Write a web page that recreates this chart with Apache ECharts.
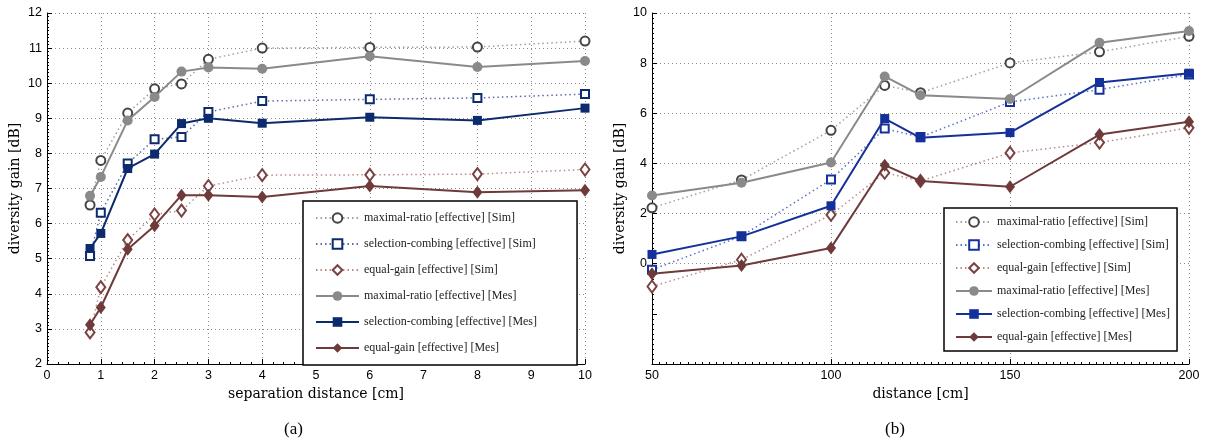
<!DOCTYPE html>
<html>
<head>
<meta charset="utf-8">
<script src="https://cdn.jsdelivr.net/npm/echarts@6/dist/echarts.min.js"></script>
<style>html,body{margin:0;padding:0;background:#fff;}#chart{width:1206px;height:448px;}</style>
</head>
<body>
<div id="chart"></div>
<script>
// ---------- Data: panel (a) ----------
const sepDistance = [0.8, 1, 1.5, 2, 2.5, 3, 4, 6, 8, 10];
const aMaxRatioSim  = [6.53, 7.80, 9.15, 9.84, 9.98, 10.68, 11.00, 11.02, 11.03, 11.20];
const aSelCombSim   = [5.08, 6.31, 7.71, 8.40, 8.47, 9.18, 9.49, 9.54, 9.58, 9.69];
const aEqualGainSim = [2.90, 4.19, 5.53, 6.26, 6.37, 7.07, 7.38, 7.39, 7.41, 7.54];
const aMaxRatioMes  = [6.79, 7.33, 8.94, 9.61, 10.33, 10.45, 10.41, 10.77, 10.46, 10.63];
const aSelCombMes   = [5.29, 5.72, 7.57, 7.98, 8.85, 9.00, 8.86, 9.03, 8.94, 9.29];
const aEqualGainMes = [3.12, 3.61, 5.27, 5.94, 6.81, 6.81, 6.76, 7.07, 6.89, 6.95];

// ---------- Data: panel (b) ----------
const distance = [50, 75, 100, 115, 125, 150, 175, 200];
const bMaxRatioSim  = [2.23, 3.34, 5.32, 7.11, 6.82, 8.01, 8.45, 9.07];
const bSelCombSim   = [-0.24, 1.10, 3.36, 5.39, 5.05, 6.45, 6.94, 7.55];
const bEqualGainSim = [-0.91, 0.16, 1.95, 3.63, 3.30, 4.42, 4.83, 5.42];
const bMaxRatioMes  = [2.72, 3.23, 4.04, 7.47, 6.72, 6.57, 8.81, 9.28];
const bSelCombMes   = [0.37, 1.09, 2.31, 5.79, 5.02, 5.23, 7.23, 7.60];
const bEqualGainMes = [-0.40, -0.07, 0.63, 3.93, 3.30, 3.07, 5.15, 5.66];

// ---------- Labels ----------
const seriesNames = [
  'maximal-ratio [effective] [Sim]',
  'selection-combing [effective] [Sim]',
  'equal-gain [effective] [Sim]',
  'maximal-ratio [effective] [Mes]',
  'selection-combing [effective] [Mes]',
  'equal-gain [effective] [Mes]'
];
const yAxisName = 'diversity gain [dB]';
const xNameA = 'separation distance [cm]';
const xNameB = 'distance [cm]';
const panelLabels = ['(a)', '(b)'];
const SUFFIX_B = '\u200b';

const pairs = (xs, ys) => xs.map((x, i) => [x, ys[i]]);

const serif = 'Liberation Serif';
const sans = 'Liberation Sans';

const gray = {mes: '#8a8a8a', simMark: '#444444', simLine: '#a0a0a0'};
const blueA = {mes: '#0c2a6e', simMark: '#0c2a6e', simLine: '#5a6aa8'};
const blueB = {mes: '#14309a', simMark: '#14309a', simLine: '#5a72c8'};
const brown = {mes: '#6e3a3a', simMark: '#7a4242', simLine: '#b88c8c'};

function simSeries(name, axis, data, symbol, size, col) {
  return {
    name: name, type: 'line', xAxisIndex: axis, yAxisIndex: axis, data: data,
    symbol: symbol, symbolSize: size, showAllSymbol: true,
    lineStyle: {color: col.simLine, width: 1.5, type: [1.5, 3]},
    itemStyle: {color: col.simMark, borderColor: col.simMark, borderWidth: 2.4},
    emphasis: {disabled: true}, animation: false, z: 3
  };
}
function mesSeries(name, axis, data, symbol, size, col) {
  return {
    name: name, type: 'line', xAxisIndex: axis, yAxisIndex: axis, data: data,
    symbol: symbol, symbolSize: size, showAllSymbol: true,
    lineStyle: {color: col.mes, width: 2},
    itemStyle: {color: col.mes},
    emphasis: {disabled: true}, animation: false, z: 4
  };
}

const series = [
  simSeries(seriesNames[0], 0, pairs(sepDistance, aMaxRatioSim), 'emptyCircle', 9, gray),
  simSeries(seriesNames[1], 0, pairs(sepDistance, aSelCombSim), 'emptyRect', 8, blueA),
  simSeries(seriesNames[2], 0, pairs(sepDistance, aEqualGainSim), 'emptyDiamond', [9, 12], brown),
  mesSeries(seriesNames[3], 0, pairs(sepDistance, aMaxRatioMes), 'circle', 10, gray),
  mesSeries(seriesNames[4], 0, pairs(sepDistance, aSelCombMes), 'rect', 9, blueA),
  mesSeries(seriesNames[5], 0, pairs(sepDistance, aEqualGainMes), 'diamond', [10, 13], brown),
  simSeries(seriesNames[0] + SUFFIX_B, 1, pairs(distance, bMaxRatioSim), 'emptyCircle', 9, gray),
  simSeries(seriesNames[1] + SUFFIX_B, 1, pairs(distance, bSelCombSim), 'emptyRect', 8, blueB),
  simSeries(seriesNames[2] + SUFFIX_B, 1, pairs(distance, bEqualGainSim), 'emptyDiamond', [9, 12], brown),
  mesSeries(seriesNames[3] + SUFFIX_B, 1, pairs(distance, bMaxRatioMes), 'circle', 10, gray),
  mesSeries(seriesNames[4] + SUFFIX_B, 1, pairs(distance, bSelCombMes), 'rect', 9, blueB),
  mesSeries(seriesNames[5] + SUFFIX_B, 1, pairs(distance, bEqualGainMes), 'diamond', [10, 13], brown)
];

const gridLine = {show: true, lineStyle: {color: '#8c8c8c', width: 1, type: [1, 3]}};
const axisLine = {show: true, onZero: false, lineStyle: {color: '#000', width: 1}};
const tickLab = {color: '#000', fontFamily: sans, fontSize: 12.5, margin: 5};
const nameStyle = {color: '#000', fontFamily: 'DejaVu Serif', fontSize: 14};

const option = {
  backgroundColor: '#fff',
  animation: false,
  grid: [
    {left: 47, right: 621, top: 13, bottom: 84, containLabel: false},
    {left: 652, right: 17, top: 13, bottom: 84, containLabel: false}
  ],
  xAxis: [
    {type: 'value', gridIndex: 0, min: 0, max: 10, interval: 1,
     name: xNameA, nameLocation: 'middle', nameGap: 16, nameTextStyle: nameStyle,
     axisLine: axisLine, axisTick: {show: true, inside: true, length: 5, lineStyle: {color: '#000'}},
     minorTick: {show: true, splitNumber: 5, length: 2, lineStyle: {color: '#000'}},
     axisLabel: tickLab, splitLine: gridLine},
    {type: 'value', gridIndex: 1, min: 50, max: 200, interval: 50,
     name: xNameB, nameLocation: 'middle', nameGap: 16, nameTextStyle: nameStyle,
     axisLine: axisLine, axisTick: {show: true, inside: true, length: 5, lineStyle: {color: '#000'}},
     minorTick: {show: true, splitNumber: 25, length: 2, lineStyle: {color: '#000'}},
     axisLabel: tickLab, splitLine: gridLine}
  ],
  yAxis: [
    {type: 'value', gridIndex: 0, min: 2, max: 12, interval: 1,
     name: yAxisName, nameLocation: 'middle', nameGap: 25, nameTextStyle: nameStyle,
     axisLine: axisLine, axisTick: {show: true, inside: true, length: 5, lineStyle: {color: '#000'}},
     minorTick: {show: true, splitNumber: 10, length: 2, lineStyle: {color: '#000'}},
     axisLabel: tickLab, splitLine: gridLine},
    {type: 'value', gridIndex: 1, min: -4, max: 10, interval: 2,
     name: yAxisName, nameLocation: 'middle', nameGap: 25, nameTextStyle: nameStyle,
     axisLine: axisLine, axisTick: {show: true, inside: true, length: 5, lineStyle: {color: '#000'}},
     minorTick: {show: true, splitNumber: 10, length: 2, lineStyle: {color: '#000'}},
     axisLabel: Object.assign({}, tickLab, {formatter: v => (v < 0 ? '' : String(v))}),
     splitLine: {show: true, lineStyle: {color: ['rgba(0,0,0,0)', 'rgba(0,0,0,0)', '#8c8c8c', '#8c8c8c', '#8c8c8c', '#8c8c8c', '#8c8c8c', '#8c8c8c'], width: 1, type: [1, 3]}}}
  ],
  legend: [
    {data: seriesNames, orient: 'vertical', left: 303, top: 201,
     padding: [11, 40, 11, 12], itemGap: 14, itemWidth: 43, itemHeight: 12,
     backgroundColor: '#fff', borderColor: '#000', borderWidth: 1.5,
     textStyle: {fontFamily: serif, fontSize: 12, color: '#222'},
     selectedMode: false},
    {data: seriesNames.map(n => n + SUFFIX_B), orient: 'vertical', left: 944, top: 208,
     padding: [8, 7, 8, 11], itemGap: 11, itemWidth: 36, itemHeight: 12,
     backgroundColor: '#fff', borderColor: '#000', borderWidth: 1.5,
     formatter: n => n.replace(SUFFIX_B, ''),
     textStyle: {fontFamily: serif, fontSize: 12, color: '#222'},
     selectedMode: false}
  ],
  graphic: [
    {type: 'text', left: 284, top: 421, style: {text: panelLabels[0], font: '17px "Liberation Serif"', fill: '#000'}},
    {type: 'text', left: 885, top: 421, style: {text: panelLabels[1], font: '17px "Liberation Serif"', fill: '#000'}}
  ],
  series: series
};

const chart = echarts.init(document.getElementById('chart'), null, {renderer: 'canvas'});
chart.setOption(option);
</script>
</body>
</html>
